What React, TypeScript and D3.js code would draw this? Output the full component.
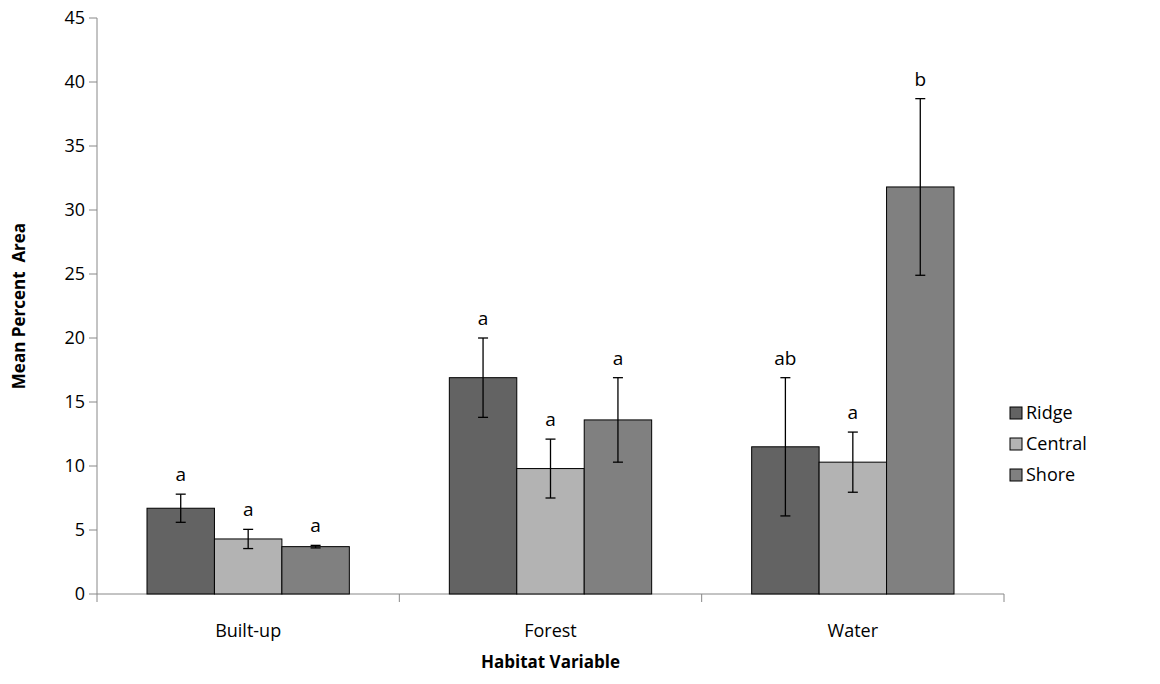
import * as d3 from "d3";

const categories = ["Built-up", "Forest", "Water"];
const series = ["Ridge", "Central", "Shore"];
const colors = ["#636363", "#b3b3b3", "#808080"];
const means = [
  [6.7, 4.3, 3.7],
  [16.9, 9.8, 13.6],
  [11.5, 10.3, 31.8],
];
const errors = [
  [1.1, 0.75, 0.1],
  [3.1, 2.3, 3.3],
  [5.4, 2.35, 6.9],
];
const letters = [
  ["a", "a", "a"],
  ["a", "a", "a"],
  ["ab", "a", "b"],
];
const yTicks = [0, 5, 10, 15, 20, 25, 30, 35, 40, 45];

const font = "'Open Sans', 'Liberation Sans', sans-serif";

export default function App() {
  const W = 1160, H = 684;
  const left = 97, right = 1004, top = 18, bottom = 594;
  const y = d3.scaleLinear().domain([0, 45]).range([bottom, top]);
  const x0 = d3.scaleBand().domain(categories).range([left, right]).paddingInner(0).paddingOuter(0);
  const x1 = d3.scaleBand().domain(series).range([50, x0.bandwidth() - 50]);

  return (
    <svg width={W} height={H} style={{ position: "absolute", left: 0, top: 0 }} fontFamily={font}>
      <rect width={W} height={H} fill="#fff" />
      <line x1={left} x2={left} y1={top} y2={bottom} stroke="#888" />
      {yTicks.map(t => (
        <g key={t}>
          <line x1={left - 8} x2={left} y1={y(t)} y2={y(t)} stroke="#888" />
          <text x={left - 12} y={y(t)} dy="0.35em" textAnchor="end" fontSize={18} fill="#000">{t}</text>
        </g>
      ))}
      <line x1={left} x2={right} y1={bottom} y2={bottom} stroke="#888" />
      {[...categories.map(c => x0(c)!), right].map((v, i) => (
        <line key={i} x1={v} x2={v} y1={bottom} y2={bottom + 8} stroke="#888" />
      ))}
      {categories.map((c, ci) => (
        <g key={c} transform={`translate(${x0(c)},0)`}>
          {series.map((s, si) => {
            const m = means[ci][si], e = errors[ci][si];
            const bx = x1(s)!, bw = x1.bandwidth(), cx = bx + bw / 2;
            return (
              <g key={s}>
                <rect x={bx} y={y(m)} width={bw} height={bottom - y(m)} fill={colors[si]} stroke="#000" strokeWidth={1} />
                <line x1={cx} x2={cx} y1={y(m - e)} y2={y(m + e)} stroke="#000" strokeWidth={1.3} />
                <line x1={cx - 5} x2={cx + 5} y1={y(m + e)} y2={y(m + e)} stroke="#000" strokeWidth={1.3} />
                <line x1={cx - 5} x2={cx + 5} y1={y(m - e)} y2={y(m - e)} stroke="#000" strokeWidth={1.3} />
                <text x={cx} y={y(m + e) - 13} textAnchor="middle" fontSize={19}>{letters[ci][si]}</text>
              </g>
            );
          })}
          <text x={x0.bandwidth() / 2} y={637} textAnchor="middle" fontSize={18}>{c}</text>
        </g>
      ))}
      <text x={(left + right) / 2} y={668} textAnchor="middle" fontSize={17} fontWeight="bold">Habitat Variable</text>
      <text transform={`translate(25,${(top + bottom) / 2}) rotate(-90)`} textAnchor="middle" fontSize={17} fontWeight="bold" style={{ whiteSpace: "pre" }}>Mean Percent  Area</text>
      {series.map((s, i) => (
        <g key={s} transform={`translate(1010,${413 + i * 31})`}>
          <rect x={0} y={-6} width={12} height={12} fill={colors[i]} stroke="#000" />
          <text x={16} y={0} dy="0.35em" fontSize={18}>{s}</text>
        </g>
      ))}
    </svg>
  );
}
